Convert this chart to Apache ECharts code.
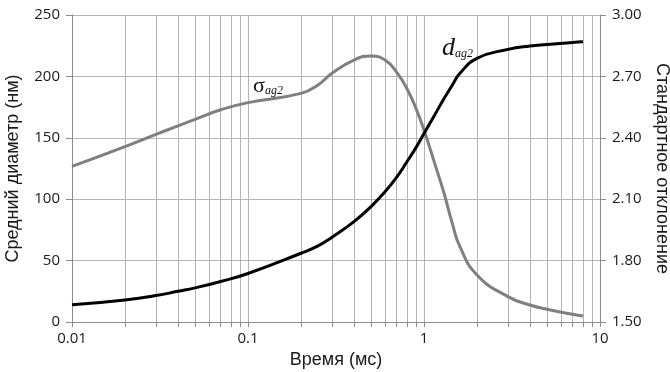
<!DOCTYPE html>
<html>
<head>
<meta charset="utf-8">
<script src="https://cdn.jsdelivr.net/npm/echarts@6/dist/echarts.min.js"></script>
<style>
  html, body { margin: 0; padding: 0; background: #fff; }
  #chart { width: 670px; height: 372px; }
</style>
</head>
<body>
<div id="chart"></div>
<script>
// time points (ms)
var times = [0.01, 0.02, 0.03, 0.04, 0.05, 0.07, 0.1, 0.2, 0.25, 0.3, 0.4, 0.5, 0.6, 0.7, 0.8, 0.9, 1, 1.15, 1.3, 1.45, 1.6, 2, 3, 4, 5, 7, 8];
// mean diameter d_ag2 (nm), left axis
var diameter = [14, 18, 21.5, 25, 27.8, 33, 39.5, 56, 62, 69, 81.7, 94, 106, 118, 130.5, 142, 153.6, 168.6, 182, 193, 202.5, 214.7, 222, 224.8, 226, 227.7, 228.3];
// standard deviation sigma_ag2, right axis
var sigma = [2.26, 2.357, 2.417, 2.458, 2.49, 2.537, 2.572, 2.617, 2.658, 2.715, 2.78, 2.80, 2.78, 2.72, 2.64, 2.544, 2.438, 2.275, 2.129, 1.98, 1.868, 1.73, 1.624, 1.583, 1.562, 1.538, 1.529];

var xLabels = [0.01, 0.1, 1, 10];
var xTicks = [0.01, 0.02, 0.03, 0.04, 0.05, 0.06, 0.07, 0.08, 0.09,
              0.1, 0.2, 0.3, 0.4, 0.5, 0.6, 0.7, 0.8, 0.9,
              1, 2, 3, 4, 5, 6, 7, 8, 9, 10];

var gridColor = '#b4b4b4';
var tickFont = { fontFamily: 'Open Sans', fontSize: 15, color: '#1a1a1a' };
var nameFont = { fontFamily: 'Liberation Sans', fontSize: 18, color: '#1a1a1a' };

var chart = echarts.init(document.getElementById('chart'));
var option = {
    backgroundColor: '#fff',
    animation: false,
    grid: { left: 72, right: 70, top: 15, bottom: 50, outerBoundsMode: 'none', containLabel: false },
    xAxis: {
        type: 'log',
        logBase: 10,
        min: 0.01,
        max: 10,
        name: 'Время (мс)',
        nameLocation: 'middle',
        nameGap: 28,
        nameTextStyle: nameFont,
        axisLine: { lineStyle: { color: '#8c8c8c' } },
        axisTick: { show: true, length: 5, customValues: xTicks, lineStyle: { color: '#8c8c8c' } },
        axisLabel: Object.assign({ customValues: xLabels, margin: 9, formatter: function (v) { return String(v); } }, tickFont),
        splitLine: { show: true, lineStyle: { color: gridColor, width: 1 } }
    },
    yAxis: [{
        type: 'value',
        min: 0,
        max: 250,
        interval: 50,
        position: 'left',
        name: 'Средний диаметр (нм)',
        nameLocation: 'middle',
        nameRotate: 90,
        nameGap: 50,
        nameTextStyle: Object.assign({ padding: [40, 0, 0, 0] }, nameFont),
        axisLine: { show: true, lineStyle: { color: '#8c8c8c' } },
        axisTick: { show: true, length: 6, lineStyle: { color: '#8c8c8c' } },
        axisLabel: Object.assign({ margin: 12 }, tickFont),
        splitLine: { show: true, lineStyle: { color: gridColor, width: 1 } }
    }, {
        type: 'value',
        min: 1.5,
        max: 3.0,
        interval: 0.3,
        position: 'right',
        name: 'Стандартное отклонение',
        nameLocation: 'middle',
        nameRotate: -90,
        nameGap: 40,
        nameTextStyle: Object.assign({ padding: [28, 0, 0, 0] }, nameFont),
        axisLine: { show: true, lineStyle: { color: '#8c8c8c' } },
        axisTick: { show: true, length: 6, lineStyle: { color: '#8c8c8c' } },
        axisLabel: Object.assign({ margin: 12, formatter: function (v) { return v.toFixed(2); } }, tickFont),
        splitLine: { show: false }
    }],
    series: [{
        name: 'sigma',
        type: 'line',
        yAxisIndex: 1,
        smooth: 0.5,
        symbol: 'none',
        lineStyle: { color: '#7f7f7f', width: 3 },
        data: times.map(function (t, i) { return [t, sigma[i]]; }),
        markPoint: {
            symbol: 'circle',
            symbolSize: 0,
            silent: true,
            label: {
                show: true,
                formatter: '{s|σ}{sub|ag2}',
                rich: {
                    s: { fontFamily: 'Liberation Serif', fontSize: 22, color: '#111', verticalAlign: 'bottom' },
                    sub: { fontFamily: 'Liberation Serif', fontStyle: 'italic', fontSize: 12, color: '#111', padding: [8, 0, 0, 0] }
                }
            },
            data: [{ coord: [0.13, 2.65] }]
        }
    }, {
        name: 'diameter',
        type: 'line',
        yAxisIndex: 0,
        smooth: 0.5,
        symbol: 'none',
        lineStyle: { color: '#000', width: 3 },
        data: times.map(function (t, i) { return [t, diameter[i]]; }),
        markPoint: {
            symbol: 'circle',
            symbolSize: 0,
            silent: true,
            label: {
                show: true,
                formatter: '{d|d}{sub|ag2}',
                rich: {
                    d: { fontFamily: 'Liberation Serif', fontStyle: 'italic', fontSize: 26, color: '#111' },
                    sub: { fontFamily: 'Liberation Serif', fontStyle: 'italic', fontSize: 12, color: '#111', padding: [12, 0, 0, 0] }
                }
            },
            data: [{ coord: [1.55, 223] }]
        }
    }]
};
chart.setOption(option);
</script>
</body>
</html>
